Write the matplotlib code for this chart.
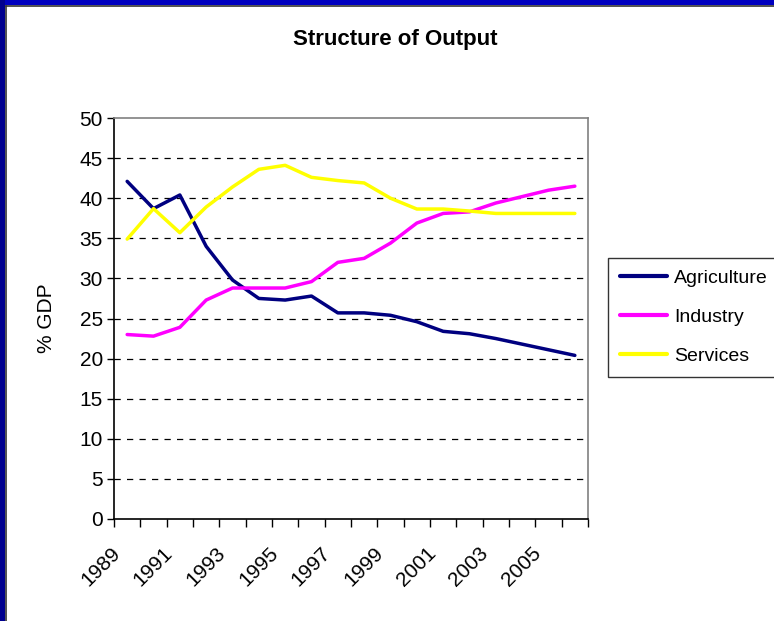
import matplotlib.pyplot as plt
import numpy as np
from matplotlib.patches import Rectangle
from matplotlib.lines import Line2D
from matplotlib.transforms import ScaledTranslation

plt.rcParams['font.family'] = ['Liberation Sans', 'DejaVu Sans']

# Data
years = list(range(1989, 2007))
agriculture = [42.1, 38.7, 40.4, 34.0, 29.8, 27.5, 27.3, 27.8, 25.7, 25.7,
               25.4, 24.6, 23.4, 23.1, 22.5, 21.8, 21.1, 20.4]
industry = [23.0, 22.8, 23.9, 27.3, 28.8, 28.8, 28.8, 29.6, 32.0, 32.5,
            34.4, 36.9, 38.1, 38.3, 39.4, 40.2, 41.0, 41.5]
services = [34.9, 38.7, 35.7, 38.9, 41.4, 43.6, 44.1, 42.6, 42.2, 41.9,
            40.0, 38.65, 38.65, 38.4, 38.1, 38.1, 38.1, 38.1]

series = [('Agriculture', agriculture, '#000080'),
          ('Industry', industry, '#FF00FF'),
          ('Services', services, '#FFFF00')]

W, H = 774, 621
fig = plt.figure(figsize=(W / 100, H / 100), dpi=100)
fig.patch.set_facecolor('white')

# blue frame on top and left, as in the slide
fig.patches.append(Rectangle((0, 1 - 5 / H), 1, 5 / H, transform=fig.transFigure,
                             facecolor='#0000C0', edgecolor='none', zorder=0))
fig.patches.append(Rectangle((0, 0), 5 / W, 1, transform=fig.transFigure,
                             facecolor='#00008E', edgecolor='none', zorder=0))
fig.lines.append(Line2D([5.5 / W, 1], [1 - 5.5 / H, 1 - 5.5 / H], transform=fig.transFigure,
                        color='#333333', lw=1.2))
fig.lines.append(Line2D([5.5 / W, 5.5 / W], [0, 1 - 5.5 / H], transform=fig.transFigure,
                        color='#333333', lw=1.2))

ax = fig.add_axes([114 / W, 1 - 519 / H, (588 - 114) / W, (519 - 118) / H])

x = np.arange(len(years))
for name, vals, col in series:
    ax.plot(x, vals, color=col, lw=2.5, label=name, solid_capstyle='round', zorder=3)

ax.set_xlim(-0.5, len(years) - 0.5)
ax.set_ylim(0, 50)
ax.set_yticks(np.arange(0, 51, 5))
for v in range(5, 50, 5):
    ax.axhline(v, color='black', lw=0.9, ls=(0, (5, 5)), zorder=1)

# category labels every other year, tick marks between categories
ax.set_xticks(x[::2])
ax.set_xticklabels([str(y) for y in years[::2]], rotation=45, ha='right',
                   rotation_mode='anchor', fontsize=15)
ax.tick_params(axis='x', which='major', length=0, pad=12)
shift = ScaledTranslation(-17 / 100, -8 / 100, fig.dpi_scale_trans)
for lab in ax.get_xticklabels():
    lab.set_transform(lab.get_transform() + shift)
ax.set_xticks(np.arange(-0.5, len(years), 1), minor=True)
ax.tick_params(axis='x', which='minor', length=6, width=1, direction='out')
ax.tick_params(axis='y', length=5, width=1, direction='out', labelsize=15, pad=3)

ax.spines['left'].set_color('black')
ax.spines['bottom'].set_color('black')
ax.spines['top'].set_color('#808080')
ax.spines['right'].set_color('#808080')
for s in ax.spines.values():
    s.set_linewidth(1.2)

ax.set_ylabel('% GDP', fontsize=15, labelpad=17)
fig.text(395 / W, 1 - 40 / H, 'Structure of Output', fontsize=16, fontweight='bold',
         ha='center', va='center')

leg = fig.legend(loc='upper left', bbox_to_anchor=(608 / W, 1 - 258 / H),
                 fontsize=14, frameon=True, fancybox=False, edgecolor='black',
                 handlelength=2.45, handletextpad=0.35, labelspacing=1.1,
                 borderpad=0.6, borderaxespad=0)
leg.get_frame().set_linewidth(1.0)
for h in leg.legend_handles:
    h.set_linewidth(3)

plt.savefig('out.png', dpi=100, facecolor='white')
